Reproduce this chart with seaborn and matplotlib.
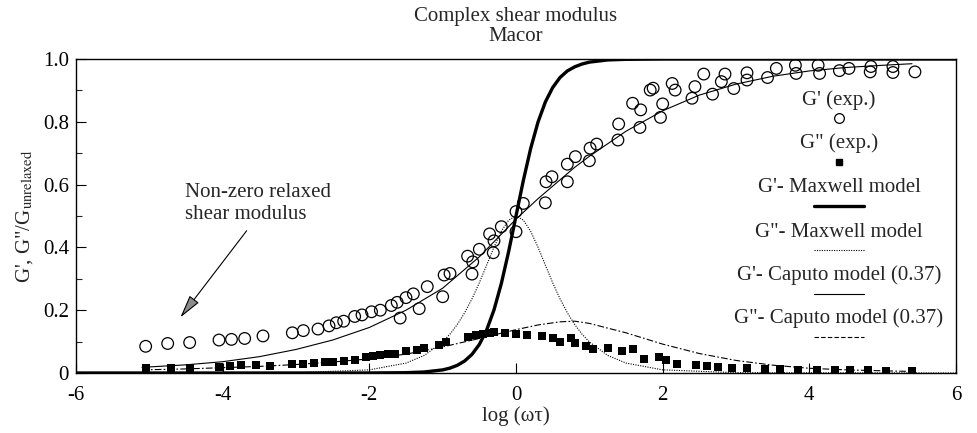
import numpy as np
import pandas as pd
import matplotlib
matplotlib.use("Agg")
import matplotlib.pyplot as plt
import seaborn as sns

# ---- data ----
gp_exp_x = [-5.05, -4.75, -4.45, -4.05, -3.88, -3.7, -3.45, -3.05, -2.9, -2.7, -2.55, -2.45,
            -2.35, -2.2, -2.1, -1.97, -1.85, -1.7, -1.62, -1.5, -1.4, -1.58, -1.32, -1.21,
            -1.0, -0.98, -0.9, -0.66, -0.59, -0.6, -0.5, -0.36, -0.3, -0.31, -0.2, 0.0, 0.0,
            0.1, 0.4, 0.41, 0.49, 0.7, 0.7, 0.81, 1.0, 1.01, 1.1, 1.39, 1.4, 1.59, 1.69, 1.7,
            1.83, 1.87, 1.97, 2.0, 2.13, 2.17, 2.4, 2.44, 2.56, 2.68, 2.8, 2.85, 2.97, 3.15,
            3.15, 3.43, 3.55, 3.81, 3.82, 4.12, 4.14, 4.41, 4.54, 4.83, 4.84, 5.14, 5.14, 5.44]
gp_exp_y = [0.085, 0.094, 0.097, 0.105, 0.107, 0.11, 0.118, 0.128, 0.135, 0.14, 0.15, 0.16,
            0.165, 0.18, 0.185, 0.195, 0.2, 0.215, 0.225, 0.24, 0.252, 0.175, 0.205, 0.275,
            0.243, 0.312, 0.317, 0.372, 0.354, 0.315, 0.394, 0.443, 0.421, 0.383, 0.466, 0.514, 0.45,
            0.54, 0.542, 0.609, 0.625, 0.609, 0.665, 0.689, 0.676, 0.716, 0.729, 0.742, 0.793, 0.859, 0.782, 0.838,
            0.901, 0.907, 0.814, 0.857, 0.922, 0.901, 0.875, 0.912, 0.952, 0.888, 0.928, 0.952, 0.906, 0.956,
            0.933, 0.941, 0.97, 0.98, 0.954, 0.98, 0.954, 0.963, 0.97, 0.959, 0.976, 0.976, 0.957, 0.959]

gpp_exp_x = [-5.05, -4.7, -4.45, -4.05, -3.9, -3.75, -3.55, -3.35, -3.05, -2.9, -2.75, -2.6, -2.5,
             -2.35, -2.2, -2.05, -1.95, -1.85, -1.75, -1.65, -1.5, -1.35, -1.25, -1.05, -0.95,
             -0.65, -0.55, -0.45, -0.35, -0.3, -0.15, 0.0, 0.15, 0.35, 0.5, 0.6, 0.75, 0.8, 0.95,
             1.05, 1.25, 1.45, 1.6, 1.75, 1.95, 2.05, 2.2, 2.45, 2.6, 2.75, 2.95, 3.15, 3.4, 3.6,
             3.85, 4.1, 4.35, 4.55, 4.8, 5.05, 5.4]
gpp_exp_y = [0.015, 0.016, 0.017, 0.02, 0.022, 0.024, 0.026, 0.022, 0.028, 0.03, 0.032, 0.035, 0.034,
             0.038, 0.04, 0.05, 0.055, 0.058, 0.062, 0.06, 0.07, 0.074, 0.08, 0.09, 0.1,
             0.115, 0.12, 0.125, 0.128, 0.13, 0.128, 0.125, 0.122, 0.118, 0.112, 0.1, 0.11, 0.095, 0.085,
             0.075, 0.08, 0.07, 0.075, 0.045, 0.05, 0.04, 0.03, 0.025, 0.022, 0.02, 0.016, 0.015, 0.013, 0.012,
             0.011, 0.01, 0.009, 0.008, 0.008, 0.007, 0.006]

maxw_x = [-6.0, -3.0, -2.0, -1.5, -1.25, -1.0, -0.9, -0.8, -0.7, -0.6, -0.5, -0.4, -0.3, -0.2, -0.1,
          0.0, 0.1, 0.2, 0.3, 0.4, 0.5, 0.6, 0.7, 0.8, 0.9, 1.0, 1.25, 1.5, 2.0, 3.0, 6.0]
maxw_gp = [0.0, 0.0, 0.0001, 0.001, 0.0032, 0.0099, 0.0156, 0.0245, 0.0383, 0.0594, 0.0909, 0.137,
           0.201, 0.285, 0.387, 0.5, 0.613, 0.715, 0.799, 0.863, 0.909, 0.941, 0.962, 0.975, 0.984,
           0.990, 0.997, 0.999, 1.0, 1.0, 1.0]
maxw_gpp = [0.0, 0.001, 0.0100, 0.0316, 0.0561, 0.0990, 0.1239, 0.1546, 0.1919, 0.2363, 0.2875, 0.3436,
            0.4006, 0.4513, 0.4870, 0.5, 0.4870, 0.4513, 0.4006, 0.3436, 0.2875, 0.2363, 0.1919, 0.1546,
            0.1239, 0.0990, 0.0561, 0.0316, 0.0100, 0.001, 0.0]

cap_x = [-5.1, -4.5, -4.0, -3.5, -3.0, -2.5, -2.0, -1.5, -1.0, -0.5, 0.0, 0.3, 0.6, 0.8, 1.0, 1.5,
         2.0, 2.5, 3.0, 3.5, 4.0, 4.5, 5.0, 5.4]
cap_gp = [0.018, 0.026, 0.036, 0.052, 0.075, 0.105, 0.145, 0.2, 0.27, 0.37, 0.49, 0.555, 0.615, 0.655,
          0.69, 0.77, 0.835, 0.885, 0.92, 0.945, 0.962, 0.973, 0.98, 0.985]
cap_gpp = [0.01, 0.013, 0.017, 0.021, 0.027, 0.035, 0.045, 0.06, 0.083, 0.11, 0.138, 0.153, 0.163,
           0.165, 0.158, 0.128, 0.092, 0.062, 0.04, 0.025, 0.015, 0.01, 0.007, 0.005]

x_ticks = [-6, -4, -2, 0, 2, 4, 6]
y_ticks = [0.0, 0.2, 0.4, 0.6, 0.8, 1.0]
y_tick_labels = ["0", "0.2", "0.4", "0.6", "0.8", "1.0"]
legend_labels = ["G' (exp.)", 'G" (exp.)', "G'- Maxwell model", 'G"- Maxwell model',
                 "G'- Caputo model (0.37)", 'G"- Caputo model (0.37)']

sns.set_theme(style="ticks")
plt.rcParams['font.family'] = ['Liberation Serif', 'DejaVu Serif']
plt.rcParams['mathtext.fontset'] = 'stix'
FS = 15

fig = plt.figure(figsize=(9.77, 4.33), dpi=100)
ax = fig.add_axes([76/977, 1-373/433, 880/977, 314/433])

sns.lineplot(x=maxw_x, y=maxw_gp, ax=ax, color='black', lw=2.4, estimator=None, sort=False)
sns.lineplot(x=maxw_x, y=maxw_gpp, ax=ax, color='black', lw=0.8, estimator=None, sort=False,
             linestyle=(0, (1, 1.2)))
sns.lineplot(x=cap_x, y=cap_gp, ax=ax, color='black', lw=0.8, estimator=None, sort=False)
sns.lineplot(x=cap_x, y=cap_gpp, ax=ax, color='black', lw=0.8, estimator=None, sort=False,
             linestyle=(0, (6, 2, 1.5, 2)))
sns.scatterplot(x=gp_exp_x, y=gp_exp_y, ax=ax, marker='o', s=70, facecolor='none',
                edgecolor='black', linewidth=0.9, zorder=3)
sns.scatterplot(x=gpp_exp_x, y=gpp_exp_y, ax=ax, marker='s', s=26, color='black',
                edgecolor='black', linewidth=0, zorder=3)

ax.set_xlim(-6, 6)
ax.set_ylim(0, 1.0)
ax.set_xticks(x_ticks)
ax.set_xticklabels([str(t) for t in x_ticks], fontsize=FS)
ax.set_yticks(y_ticks)
ax.set_yticklabels(y_tick_labels, fontsize=FS)
ax.set_yticks(np.arange(0.1, 1.0, 0.2), minor=True)
ax.tick_params(axis='both', which='major', direction='in', length=7, width=0.8, colors='black',
               pad=5, labelcolor='black')
ax.tick_params(axis='x', which='major', pad=9)
ax.tick_params(axis='y', which='minor', direction='in', length=4, width=0.8)
for s in ax.spines.values():
    s.set_linewidth(1.0)
    s.set_color('black')

ax.set_xlabel("log (ωτ)", fontsize=FS, labelpad=1)
ax.set_ylabel("G', G\"/G$_{\\rm unrelaxed}$", fontsize=FS, labelpad=6)
ax.set_title("Complex shear modulus\nMacor", fontsize=FS, pad=13, linespacing=1.05)

# legend: text above sample
lx = 0.867
text_y = [0.869, 0.732, 0.592, 0.449, 0.312, 0.175]
samp_y = [0.812, 0.672, 0.532, 0.392, 0.252, 0.115]
for lab, ty in zip(legend_labels, text_y):
    ax.text(lx, ty, lab, transform=ax.transAxes, ha='center', va='center', fontsize=FS)
ax.plot([lx], [samp_y[0]], transform=ax.transAxes, marker='o', ms=7, mfc='none', mec='black', mew=0.9)
ax.plot([lx], [samp_y[1]], transform=ax.transAxes, marker='s', ms=4, color='black')
hw = 0.028
ax.plot([lx-hw, lx+hw], [samp_y[2]]*2, transform=ax.transAxes, color='black', lw=2.4)
ax.plot([lx-hw, lx+hw], [samp_y[3]]*2, transform=ax.transAxes, color='black', lw=0.8, linestyle=(0, (1, 1.2)))
ax.plot([lx-hw, lx+hw], [samp_y[4]]*2, transform=ax.transAxes, color='black', lw=0.8)
ax.plot([lx-hw, lx+hw], [samp_y[5]]*2, transform=ax.transAxes, color='black', lw=0.8, linestyle=(0, (4, 2)))

ax.annotate("", xy=(-4.6, 0.17), xytext=(-3.65, 0.46),
            arrowprops=dict(arrowstyle='-|>,head_length=1.2,head_width=0.3', color='black', lw=0.8,
                            fc='0.55'))
ax.text(-4.52, 0.54, "Non-zero relaxed\nshear modulus", fontsize=FS, ha='left', va='center',
        linespacing=1.2)

fig.savefig("out.png", dpi=100)
